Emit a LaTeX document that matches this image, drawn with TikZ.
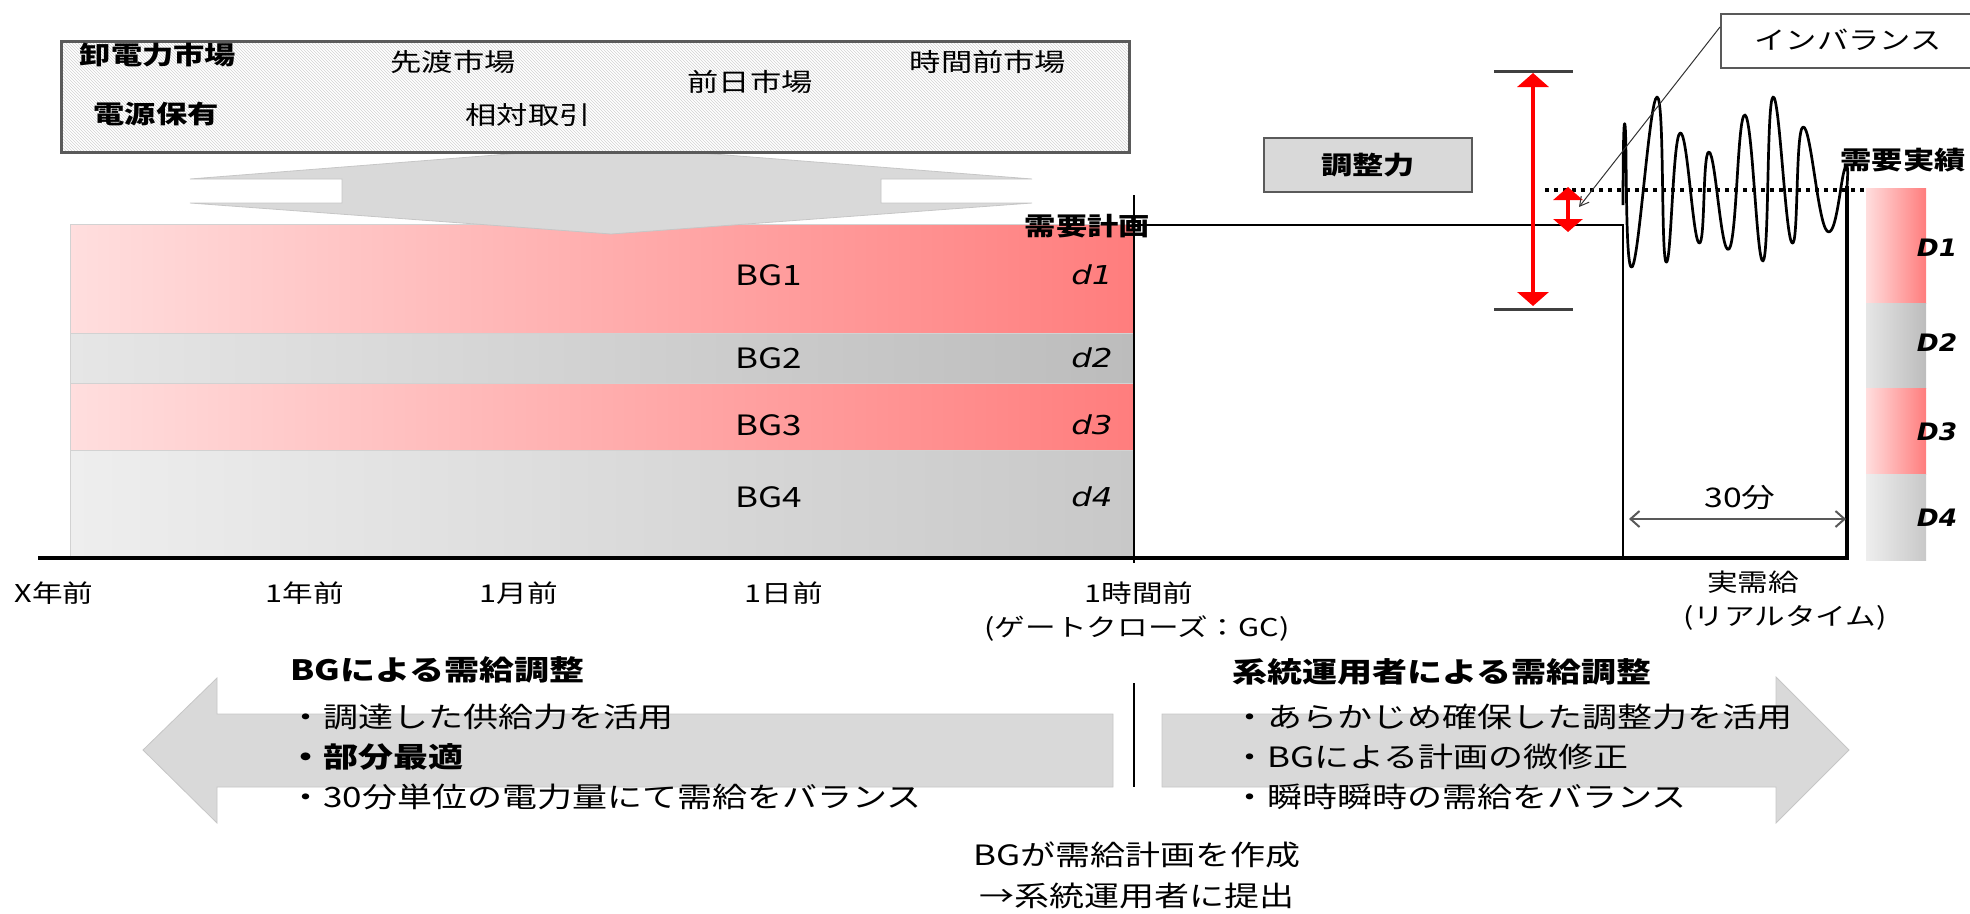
\documentclass[tikz,border=0pt]{standalone}
\usepackage{fontspec}
\setmainfont{Noto Sans CJK JP}
\newfontfamily\dvfont{DejaVu Sans}
\usetikzlibrary{arrows.meta,patterns,calc}
\newcommand{\hs}[1]{\scalebox{1.25}[1]{#1}}
\newcommand{\fA}{\fontsize{25}{30}\selectfont}
\newcommand{\fB}{\fontsize{28}{34}\selectfont}
\newcommand{\fC}{\fontsize{24.5}{30}\selectfont}
\definecolor{pinkL}{RGB}{255,222,222}
\definecolor{pinkR}{RGB}{255,125,125}
\definecolor{grayLa}{RGB}{230,230,230}
\definecolor{grayRa}{RGB}{188,188,188}
\definecolor{grayLb}{RGB}{238,238,238}
\definecolor{grayRb}{RGB}{200,200,200}
\definecolor{fillgray}{RGB}{217,217,217}
\definecolor{capgray}{RGB}{64,64,64}
\definecolor{boxgray}{RGB}{90,90,90}
\tikzset{
  lbl/.style={inner sep=0pt, font=\fA},
  lblb/.style={inner sep=0pt, font=\fA\bfseries},
  axl/.style={inner sep=0pt, font=\fC},
  bul/.style={inner sep=0pt, anchor=west, font=\fB},
  bulb/.style={inner sep=0pt, anchor=west, font=\fB\bfseries},
  pinkband/.style={left color=pinkL, right color=pinkR, draw=gray!35, line width=0.8pt},
  grayband/.style={left color=grayLa, right color=grayRa, draw=gray!35, line width=0.8pt},
  grayband2/.style={left color=grayLb, right color=grayRb, draw=gray!35, line width=0.8pt},
  bigarrow/.style={fill=fillgray, draw=gray!45, line width=0.8pt},
  dl/.style={inner sep=0pt, font=\fontsize{26}{30}\dvfont\itshape},
  Dl/.style={inner sep=0pt, font=\fontsize{24}{30}\dvfont\bfseries\itshape},
  redarrow/.style={red, line width=4.5pt, {Triangle[width=31pt,length=14pt]}-{Triangle[width=31pt,length=14pt]}},
  capline/.style={capgray, line width=3pt},
}
\begin{document}
\begin{tikzpicture}[x=1pt,y=-1pt]
\useasboundingbox (0,0) rectangle (1970,913);

% ---- BG bands ----
\path[pinkband] (70,224) rectangle (1134,333);
\path[grayband] (70,333) rectangle (1134,383);
\path[pinkband] (70,383) rectangle (1134,450);
\path[grayband2] (70,450) rectangle (1134,558);

% ---- chevron from market box ----
\path[bigarrow] (190,179) -- (611,146) -- (1032,179) -- (881,179) -- (881,203) -- (1032,203)
  -- (611,234) -- (190,203) -- (342,203) -- (342,179) -- cycle;

% ---- market box ----
\node[draw=boxgray, line width=2.5pt, preaction={fill=white}, pattern=north west lines, pattern color=gray!35,
      minimum width=1068pt, minimum height=111pt, anchor=north west, inner sep=0pt] (market) at (60,40) {};
\node[lblb] (oroshi) at (158,55) {\hs{卸電力市場}};
\node[lblb] (dengen) at (156,114) {\hs{電源保有}};
\node[lbl] (sakiwatashi) at (453,62) {\hs{先渡市場}};
\node[lbl] (aitai) at (528,115) {\hs{相対取引}};
\node[lbl] (zenjitsu) at (750,82) {\hs{前日市場}};
\node[lbl] (jikanmae) at (988,62) {\hs{時間前市場}};

% ---- BG labels ----
\node[inner sep=0pt, font=\fontsize{28}{30}\selectfont] (bg1) at (769,275) {\hs{BG1}};
\node[inner sep=0pt, font=\fontsize{28}{30}\selectfont] (bg2) at (769,358) {\hs{BG2}};
\node[inner sep=0pt, font=\fontsize{28}{30}\selectfont] (bg3) at (769,425) {\hs{BG3}};
\node[inner sep=0pt, font=\fontsize{28}{30}\selectfont] (bg4) at (769,497) {\hs{BG4}};
\node[dl] (d1) at (1092,275) {\hs{d1}};
\node[dl] (d2) at (1092,358) {\hs{d2}};
\node[dl] (d3) at (1092,425) {\hs{d3}};
\node[dl] (d4) at (1092,497) {\hs{d4}};

% ---- timeline lines ----
\coordinate (gcTop) at (1134,195);
\coordinate (gcBot) at (1134,563);
\coordinate (planEnd) at (1623,225);
\coordinate (planStart) at (1134,225);
\coordinate (rtL) at (1623,558);
\coordinate (rtR) at (1847,558);
\coordinate (axL) at (38,558);
\draw[line width=2pt] (gcTop) -- (gcBot);
\draw[line width=2.5pt] (planStart) -- (planEnd) -- (rtL);
\draw[line width=3.5pt] (axL) -- (rtR) -- (1847,186);
\node[lblb, anchor=east] (plan) at (1150,226) {\hs{需要計画}};

% ---- wave ----
\draw[line width=2.7pt, line join=round] plot[smooth, tension=0.8] coordinates {
 (1623,205) (1625,125) (1632,267) (1657,97) (1666,262) (1680,133) (1699,243) (1709,152)
 (1729,249) (1745,115) (1763,261) (1773,97) (1792,243) (1803,127) (1827,231) (1845,168) (1847,186)};
\coordinate (dotL) at (1545,190);
\coordinate (dotR) at (1866,190);
\draw[line width=3.5pt, dash pattern=on 3.5pt off 5.5pt] (dotL) -- (dotR);

% ---- adjustment capacity ----
\node[draw=boxgray, line width=2pt, fill=fillgray, minimum width=208pt, minimum height=54pt, inner sep=0pt,
      font=\fA\bfseries] (chosei) at (1368,165) {\hs{調整力}};
\coordinate (capTopL) at (1494,71);
\coordinate (capTopR) at (1573,71);
\coordinate (capBotL) at (1494,309);
\coordinate (capBotR) at (1573,309);
\draw[capline] (capTopL) -- (capTopR);
\draw[capline] (capBotL) -- (capBotR);
\coordinate (raTop) at (1533,73);
\coordinate (raBot) at (1533,306);
\draw[redarrow] (raTop) -- (raBot);
\coordinate (smTop) at (1568,187);
\coordinate (smBot) at (1568,232);
\draw[red, line width=4.5pt, {Triangle[width=29pt,length=13pt]}-{Triangle[width=29pt,length=13pt]}] (smTop) -- (smBot);

% ---- imbalance callout ----
\node[draw=gray!70!black, line width=2pt, fill=white, minimum width=270pt, minimum height=54pt, anchor=north west, inner sep=0pt] (imb) at (1720,13) {};
\node[inner sep=0pt, font=\fA\mdseries] (imbtxt) at (1848,40) {\hs{インバランス}};
\coordinate (imbTip) at (1579,207);
\draw[gray!40!black, line width=1pt, -{Straight Barb[length=9pt,width=10pt]}] ($(imb.north west)!0.25!(imb.south west)$) -- (imbTip);

% ---- actual demand bars ----
\node[lblb] (jisseki) at (1903,160) {\hs{需要実績}};
\path[pinkband, draw=none] (1866,188) rectangle (1926,303);
\path[grayband, draw=none] (1866,303) rectangle (1926,388);
\path[pinkband, draw=none] (1866,388) rectangle (1926,474);
\path[grayband2, draw=none] (1866,474) rectangle (1926,560);
\node[Dl] (D1) at (1937,248) {\scalebox{1.1}[1]{D1}};
\node[Dl] (D2) at (1937,343) {\scalebox{1.1}[1]{D2}};
\node[Dl] (D3) at (1937,432) {\scalebox{1.1}[1]{D3}};
\node[Dl] (D4) at (1937,518) {\scalebox{1.1}[1]{D4}};

% ---- 30 min ----
\coordinate (m30L) at (1629,519);
\coordinate (m30R) at (1846,519);
\draw[gray!70!black, line width=2pt, {Straight Barb[length=9pt,width=16pt]}-{Straight Barb[length=9pt,width=16pt]}] (m30L) -- (m30R);
\node[inner sep=0pt, font=\fontsize{27}{30}\selectfont] (m30) at (1740,498) {\hs{30分}};

% ---- axis labels ----
\node[axl] (xy) at (54,593) {\hs{X年前}};
\node[axl] (y1) at (305,593) {\hs{1年前}};
\node[axl] (mo1) at (519,593) {\hs{1月前}};
\node[axl] (d1ago) at (784,593) {\hs{1日前}};
\node[axl] (h1) at (1139,593) {\hs{1時間前}};
\node[axl] (gc) at (1137,628) {\hs{(ゲートクローズ：GC)}};
\node[axl] (jju) at (1753,582) {\hs{実需給}};
\node[axl] (rt) at (1785,618) {\hs{(リアルタイム)}};

% ---- bottom arrows ----
\path[bigarrow] (143,750) -- (217,678) -- (217,714) -- (1113,714) -- (1113,787) -- (217,787) -- (217,823) -- cycle;
\path[bigarrow] (1162,714) -- (1776,714) -- (1776,677) -- (1849,750) -- (1776,823) -- (1776,787) -- (1162,787) -- cycle;
\coordinate (divTop) at (1134,683);
\coordinate (divBot) at (1134,787);
\draw[line width=2pt] (divTop) -- (divBot);

\node[bulb] (lt) at (290,670) {\hs{BGによる需給調整}};
\node[bul] (l1) at (288,717) {\hs{・調達した供給力を活用}};
\node[bulb] (l2) at (288,757) {\hs{・部分最適}};
\node[bul] (l3) at (288,797) {\hs{・30分単位の電力量にて需給をバランス}};

\node[bulb] (rtt) at (1232,672) {\hs{系統運用者による需給調整}};
\node[bul] (r1) at (1232,717) {\hs{・あらかじめ確保した調整力を活用}};
\node[bul] (r2) at (1232,757) {\hs{・BGによる計画の微修正}};
\node[bul] (r3) at (1232,797) {\hs{・瞬時瞬時の需給をバランス}};

\node[inner sep=0pt, font=\fB] (sub1) at (1137,855) {\hs{BGが需給計画を作成}};
\node[inner sep=0pt, font=\fB] (sub2) at (1137,896) {\hs{→系統運用者に提出}};
\end{tikzpicture}
\end{document}
